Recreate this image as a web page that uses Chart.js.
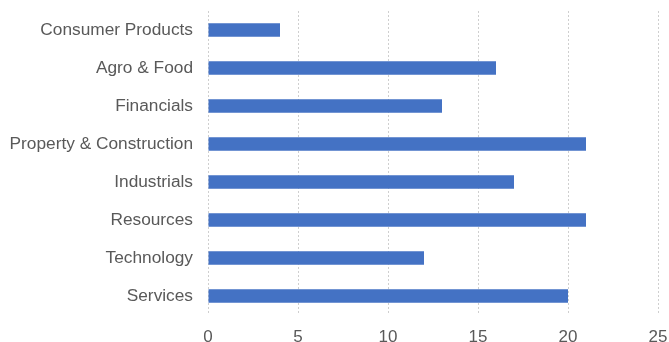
<!DOCTYPE html>
<html>
<head>
<meta charset="utf-8">
<script src="https://cdn.jsdelivr.net/npm/chart.js@4/dist/chart.umd.min.js"></script>
<style>
  html, body { margin: 0; padding: 0; background: #fff; }
  #wrap { width: 669px; height: 342px; }
</style>
</head>
<body>
<div id="wrap"><canvas id="chart"></canvas></div>
<script>
const sectors = [
    "Consumer Products",
    "Agro & Food",
    "Financials",
    "Property & Construction",
    "Industrials",
    "Resources",
    "Technology",
    "Services"
];
const counts = [4, 16, 13, 21, 17, 21, 12, 20];
const xTicks = [0, 5, 10, 15, 20, 25];

var ctx = document.getElementById("chart").getContext("2d");
var myChart = new Chart(ctx, {
    type: "bar",
    data: {
        labels: sectors,
        datasets: [
            {
                data: counts,
                backgroundColor: "#4472C4",
                barPercentage: 0.35,
                categoryPercentage: 1.0
            }
        ]
    },
    options: {
        indexAxis: "y",
        responsive: true,
        maintainAspectRatio: false,
        animation: false,
        layout: {
            padding: { top: 11, right: 11, bottom: 0, left: 0 }
        },
        plugins: {
            legend: { display: false },
            tooltip: { enabled: false }
        },
        scales: {
            x: {
                min: xTicks[0],
                max: xTicks[xTicks.length - 1],
                afterBuildTicks: function(scale) {
                    scale.ticks = xTicks.map(v => ({ value: v }));
                },
                afterFit: function(scale) {
                    scale.height = 27;
                    scale.paddingLeft = 0;
                    scale.paddingRight = 0;
                },
                grid: {
                    color: "#cfcfcf",
                    drawTicks: false
                },
                border: { display: false, dash: [2, 2] },
                ticks: {
                    color: "#595959",
                    padding: 12,
                    font: { family: "Liberation Sans", size: 17 }
                }
            },
            y: {
                afterFit: function(scale) {
                    scale.width = 208;
                    scale.paddingTop = 0;
                    scale.paddingBottom = 0;
                },
                grid: { display: false },
                border: { display: false },
                ticks: {
                    color: "#595959",
                    padding: 7,
                    font: { family: "Liberation Sans", size: 17.3 }
                }
            }
        }
    }
});
</script>
</body>
</html>
